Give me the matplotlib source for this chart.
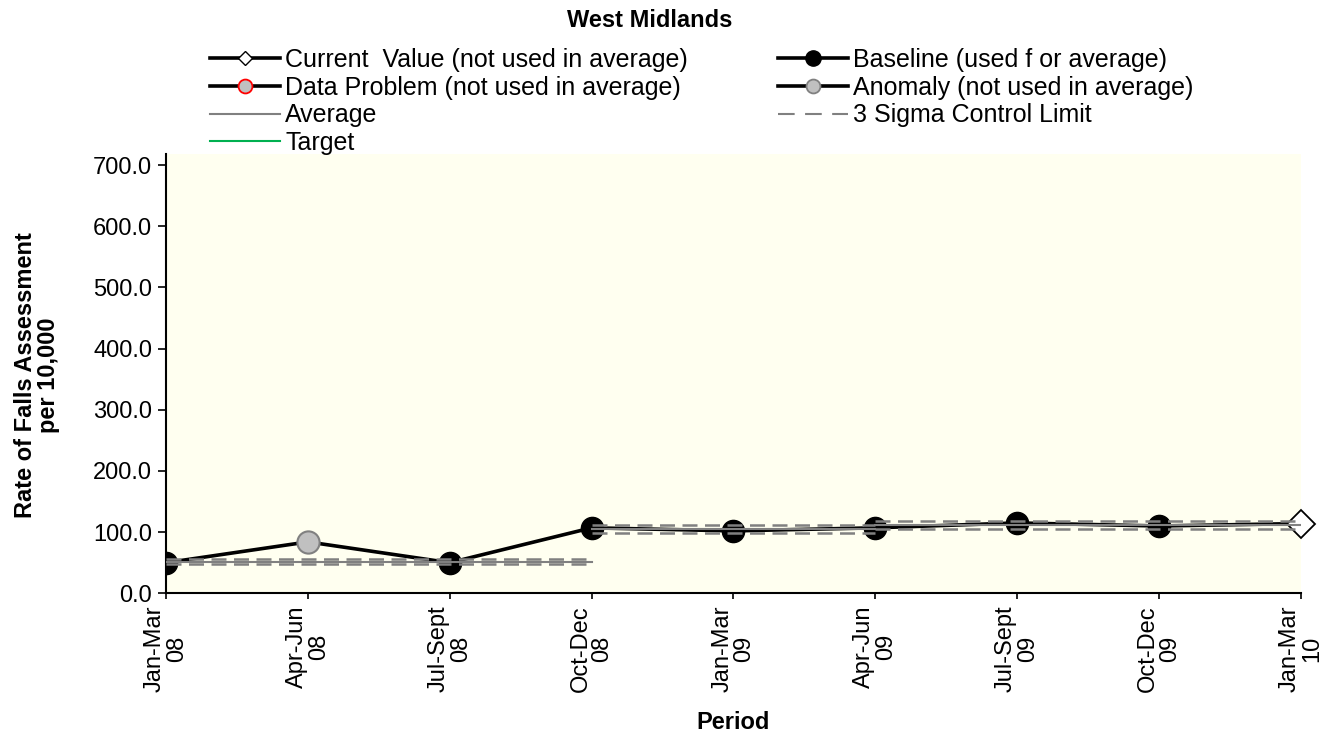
import matplotlib
matplotlib.use("Agg")
import matplotlib.pyplot as plt
from matplotlib.lines import Line2D

plt.rcParams['font.family'] = ['Liberation Sans', 'DejaVu Sans']

# datos del grafico
periods = ["Jan-Mar\n08", "Apr-Jun\n08", "Jul-Sept\n08", "Oct-Dec\n08", "Jan-Mar\n09",
           "Apr-Jun\n09", "Jul-Sept\n09", "Oct-Dec\n09", "Jan-Mar\n10"]
values = [50, 84, 50, 107, 102, 107, 115, 110, 114]
status = ["baseline", "anomaly", "baseline", "baseline", "baseline",
          "baseline", "baseline", "baseline", "current"]

# tramos de la media y limites de control
seg_start = [0, 3, 5]
seg_end = [3, 5, 8]
seg_avg = [50.5, 105, 111]
seg_ucl = [55.5, 111, 118]
seg_lcl = [48, 99, 105]

FS = 17

fig = plt.figure(figsize=(13.26, 7.37), dpi=100)
ax = fig.add_axes([0.1252, 0.195, 0.8558, 0.596])
ax.set_facecolor("#FFFFF0")

x = list(range(len(values)))

# linea de datos
ax.plot(x, values, color="black", lw=2.6, zorder=2)

for xi, v, s in zip(x, values, status):
    if s == "baseline":
        ax.plot(xi, v, "o", ms=16, mfc="black", mec="black", zorder=3)
    elif s == "anomaly":
        ax.plot(xi, v, "o", ms=16, mfc="#C0C0C0", mec="#808080", mew=1.5, zorder=3)
    elif s == "problem":
        ax.plot(xi, v, "o", ms=16, mfc="#C0C0C0", mec="red", mew=1.5, zorder=3)
    else:
        ax.plot(xi, v, "D", ms=14, mfc="white", mec="black", mew=1.3, zorder=3,
                clip_on=False)

# media y limites
for a, b, m, u, l in zip(seg_start, seg_end, seg_avg, seg_ucl, seg_lcl):
    ax.plot([a, b], [m, m], color="#808080", lw=1.5, zorder=4)
    ax.plot([a, b], [u, u], color="#808080", lw=1.8, ls=(0, (6, 3)), zorder=4)
    ax.plot([a, b], [l, l], color="#808080", lw=1.8, ls=(0, (6, 3)), zorder=4)

ax.set_xlim(0, 8)
ax.set_ylim(0, 718)
ax.set_yticks(range(0, 701, 100))
ax.set_yticklabels(["%.1f" % t for t in range(0, 701, 100)], fontsize=FS)
ax.set_xticks(x)
ax.set_xticklabels(periods, rotation=90, ha="center", va="top",
                   multialignment="center", fontsize=FS, linespacing=1.0)

for sp in ["top", "right"]:
    ax.spines[sp].set_visible(False)
ax.spines["left"].set_linewidth(1.5)
ax.spines["bottom"].set_linewidth(1.5)
ax.tick_params(axis="y", direction="out", length=6, width=1.2, pad=4)
ax.tick_params(axis="x", direction="out", length=4, width=1.2, pad=5)

fig.text(0.5528, 0.02, "Period", ha="center", va="center",
         fontsize=FS, fontweight="bold")
fig.text(0.028, 0.491, "Rate of Falls Assessment\nper 10,000", rotation=90,
         ha="center", va="center", fontsize=FS, fontweight="bold",
         multialignment="center", linespacing=1.0)

fig.text(0.49, 0.972, "West Midlands", ha="center", va="center",
         fontsize=FS, fontweight="bold")

# leyenda
handles = [
    Line2D([], [], color="black", lw=2.6, marker="D", ms=7, mfc="white", mec="black"),
    Line2D([], [], color="black", lw=2.6, marker="o", ms=10, mfc="#C0C0C0", mec="red", mew=1.3),
    Line2D([], [], color="#808080", lw=1.5),
    Line2D([], [], color="#00B050", lw=1.5),
    Line2D([], [], color="black", lw=2.6, marker="o", ms=11, mfc="black", mec="black"),
    Line2D([], [], color="black", lw=2.6, marker="o", ms=10, mfc="#C0C0C0", mec="#808080", mew=1.3),
    Line2D([], [], color="#808080", lw=1.5, ls=(0, (8, 5))),
]
labels = [
    "Current  Value (not used in average)",
    "Data Problem (not used in average)",
    "Average",
    "Target",
    "Baseline (used f or average)",
    "Anomaly (not used in average)",
    "3 Sigma Control Limit",
]
fig.legend(handles, labels, loc="upper left", bbox_to_anchor=(0.1584, 0.935),
           ncol=2, frameon=False, fontsize=18, handlelength=2.8,
           handletextpad=0.2, labelspacing=0.15, columnspacing=3.6,
           borderpad=0, borderaxespad=0)

fig.savefig("out.png", dpi=100)
